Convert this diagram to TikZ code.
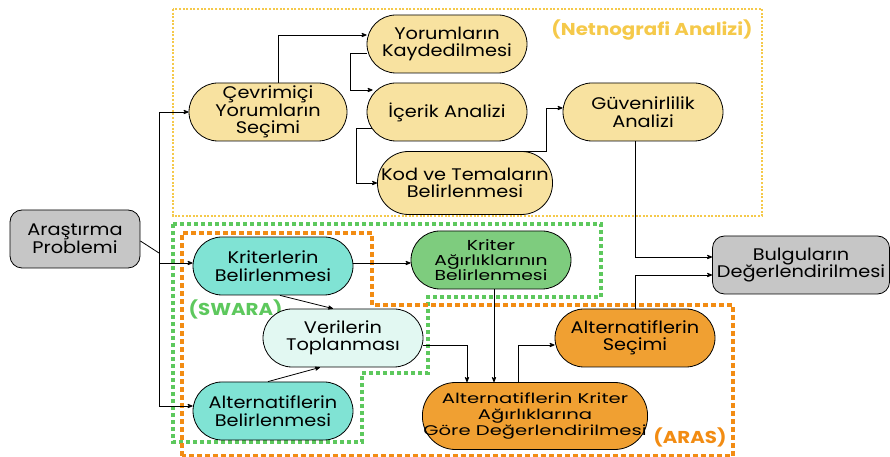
\documentclass[tikz,border=0pt]{standalone}
\usepackage{fontspec}
\setmainfont{Poppins}[FakeStretch=1.15]
\newfontfamily\widefont{Poppins}[FakeStretch=1.3]
\newfontfamily\widerfont{Poppins}[FakeStretch=1.4]
\usepackage{xcolor}
\usepackage{tikz}
\usetikzlibrary{arrows}

\definecolor{netfill}{HTML}{F8E2A0}
\definecolor{netline}{HTML}{F5C94A}
\definecolor{tealfill}{HTML}{80E3D4}
\definecolor{mintfill}{HTML}{E2F8F2}
\definecolor{weightfill}{HTML}{7ECC7E}
\definecolor{arasfill}{HTML}{F0A032}
\definecolor{grayfill}{HTML}{C6C6C6}
\definecolor{swaraline}{HTML}{5DC85D}
\definecolor{arasline}{HTML}{F28C13}

\begin{document}
\begin{tikzpicture}[->,>=stealth',x=1pt,y=1pt,line width=0.8pt,
                    node distance=68pt]
\tikzstyle{every node}=[font=\fontsize{16.8}{17.5}\selectfont,align=center]
\tikzstyle{pill}=[draw,rounded corners=29pt,minimum width=160pt,
                  minimum height=58pt,inner sep=1pt]
\tikzstyle{netno}=[pill,fill=netfill]
\tikzstyle{swara}=[pill,fill=tealfill]
\tikzstyle{aras}=[pill,fill=arasfill]
\tikzstyle{grey}=[draw,rounded corners=12pt,fill=grayfill,
                  minimum height=58pt,inner sep=3pt]
\tikzstyle{group}=[-,line width=3.2pt,dash pattern=on 4pt off 3pt]
\tikzstyle{tag}=[font=\fontsize{17.2}{18}\selectfont\bfseries]

\useasboundingbox (0,0) rectangle (890,457);

% dotted frames
\draw[group,netline,line width=2.4pt,dash pattern=on 2pt off 1.6pt]
  (173,448) rectangle (762,241);
\draw[group,swaraline] (173,233) -- (601,233) -- (601,160) -- (428,160)
  -- (428,84) -- (362,84) -- (362,15) -- (173,15) -- cycle;
\draw[group,arasline,dash pattern=on 5pt off 3pt] (182,1) -- (182,224)
  -- (372,224) -- (372,152) -- (733,152) -- (733,1) -- cycle;

\node[tag,text=netline] (NET) at (652,427) {(Netnografi Analizi)};
\node[tag,text=swaraline,anchor=west] (SW) at (185,148) {(SWARA)};
\node[tag,text=arasline] (AR) at (690,20) {(ARAS)};

% nodes
\node[grey,minimum width=130pt] (AP) at (75,218) {Araştırma\\Problemi};
\node[netno,minimum width=158pt] (CYS) at (268,345) {Çevrimiçi\\Yorumların\\Seçimi};
\node[netno] (YK) at (447,413) {Yorumların\\Kaydedilmesi};
\node[netno] (IA) [below of=YK] {İçerik Analizi};
\node[netno,minimum width=175pt,minimum height=63pt,rounded corners=31pt]
  (KT) [below of=IA,xshift=18pt,node distance=71pt] {Kod ve Temaların\\Belirlenmesi};
\node[netno] (GA) [right of=IA,node distance=196pt] {Güvenirlilik\\Analizi};
\node[swara] (KB) at (273,191) {Kriterlerin\\Belirlenmesi};
\node[pill,fill=weightfill,font=\widefont\fontsize{14.4}{15}\selectfont]
  (KA) [right of=KB,yshift=6pt,node distance=218pt] {Kriter\\Ağırlıklarının\\Belirlenmesi};
\node[pill,fill=mintfill] (VT) at (343,119) {Verilerin\\Toplanması};
\node[swara] (AB) [below of=KB,node distance=145pt] {Alternatiflerin\\Belirlenmesi};
\node[aras] (AS) [right of=VT,node distance=292pt] {Alternatiflerin\\Seçimi};
\node[aras,minimum width=223pt,minimum height=67pt,rounded corners=33pt,
      font=\widerfont\fontsize{14}{15.6}\selectfont]
  (AD) at (535,41) {Alternatiflerin Kriter\\Ağırlıklarına\\Göre Değerlendirilmesi};
\node[grey,minimum width=177pt] (BD) at (801,192) {Bulguların\\Değerlendirilmesi};

% connectors
\coordinate (split) at (159,204);
\draw[-] ([yshift=-2pt]AP.east) -- (split);
\draw (split) |- (CYS.west);
\draw (split) |- ([yshift=3pt]KB.west);
\draw (split) |- ([yshift=5pt]AB.west);

\draw ([xshift=10pt]CYS.north) |- ([yshift=9pt]YK.west);
\draw ([yshift=-9pt]YK.west) -- ++(-16,0) |- ([shift={(6pt,22pt)}]IA.west);
\draw ([shift={(5pt,-16pt)}]IA.west) -- ++(-15,0) |- (KT.west);
\draw ([xshift=56pt]KT.north) -- ++(25,0) |- ([yshift=4pt]GA.west);
\draw ([xshift=-8pt]GA.south) |- ([yshift=8pt]BD.west);
\draw (AS.north) |- ([yshift=-10pt]BD.west);

\draw ([yshift=3pt]KB.east) -- ([yshift=-3pt]KA.west);
\draw ([xshift=7pt]KB.south) -- ([xshift=-10pt]VT.north);
\draw ([xshift=-5pt]AB.north) -- ([xshift=-23pt]VT.south);
\draw ([yshift=-7pt]VT.east) -| ([xshift=-68pt]AD.north);
\draw ([xshift=3pt]KA.south) -- ([xshift=-41pt]AD.north);
\draw ([xshift=-17pt]AD.north) |- ([yshift=-7pt]AS.west);
\end{tikzpicture}
\end{document}
